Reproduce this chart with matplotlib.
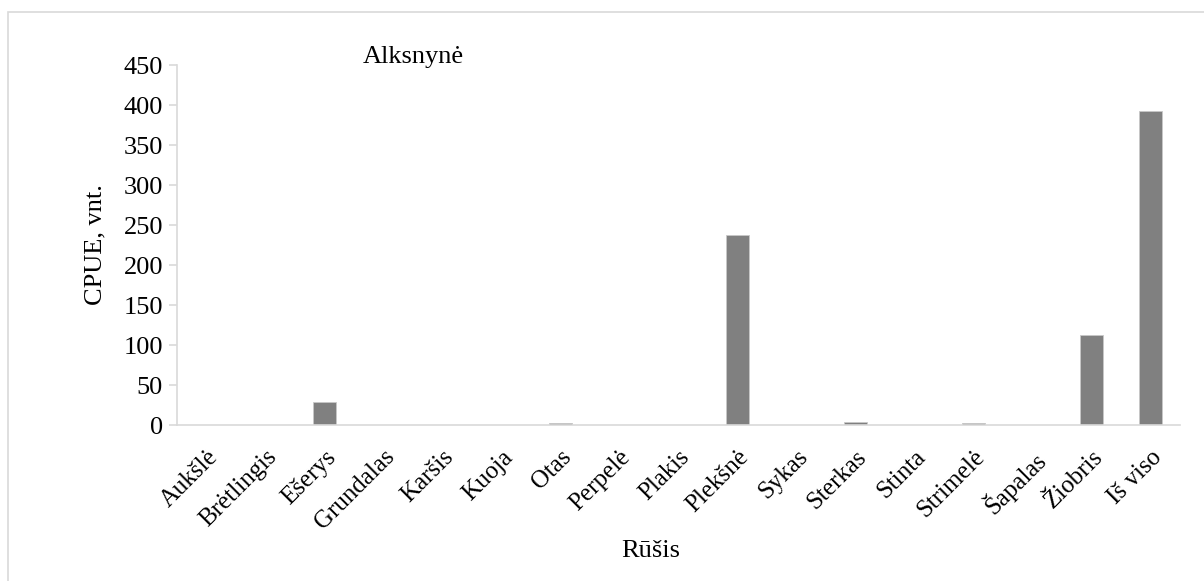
import matplotlib
matplotlib.use("Agg")
import matplotlib.pyplot as plt
from matplotlib.patches import Rectangle

categories = ["Aukšlė", "Brėtlingis", "Ešerys", "Grundalas", "Karšis", "Kuoja",
              "Otas", "Perpelė", "Plakis", "Plekšnė", "Sykas", "Sterkas",
              "Stinta", "Strimelė", "Šapalas", "Žiobris", "Iš viso"]
values = [0, 0, 28.5, 0, 0, 0, 2.5, 0, 0, 237.5, 0, 4, 0, 2.5, 0, 113, 392]
yticks = [0, 50, 100, 150, 200, 250, 300, 350, 400, 450]

plt.rcParams['font.family'] = ['Liberation Serif', 'DejaVu Serif']

fig = plt.figure(figsize=(12.04, 5.81), dpi=100)
fig.patches.append(Rectangle((8/1204, -0.1), 1.2, 1 - 12/581 + 0.1,
                             transform=fig.transFigure, fill=False,
                             edgecolor='#d9d9d9', linewidth=1.2))
ax = fig.add_axes([177/1204, 1 - 425/581, (1180 - 177)/1204, 360/581])

x = list(range(len(categories)))
ax.bar(x, values, width=0.4, color='#808080', edgecolor='#c8c8c8', linewidth=0.6)
ax.set_xlim(-0.5, len(categories) - 0.5)
ax.set_ylim(0, 450)
ax.set_yticks(yticks)
ax.set_yticklabels([str(v) for v in yticks], fontsize=19)
ax.set_xticks(x)
ax.set_xticklabels(categories, rotation=45, ha='right', va='top',
                   rotation_mode='anchor', fontsize=18)

for s in ['top', 'right']:
    ax.spines[s].set_visible(False)
for s in ['left', 'bottom']:
    ax.spines[s].set_color('#d9d9d9')
    ax.spines[s].set_linewidth(1.2)
ax.tick_params(axis='y', length=6, color='#d9d9d9', width=1.2, pad=4)
ax.tick_params(axis='x', length=0, pad=15)

fig.text(95/1204, 1 - 245/581, "CPUE, vnt.", fontsize=19, rotation=90,
         ha='center', va='center')
fig.text(651/1204, 1 - 551/581, "Rūšis", fontsize=19, ha='center', va='center')
fig.text(413/1204, 1 - 57/581, "Alksnynė", fontsize=19, ha='center', va='center')

fig.savefig("out.png", dpi=100)
